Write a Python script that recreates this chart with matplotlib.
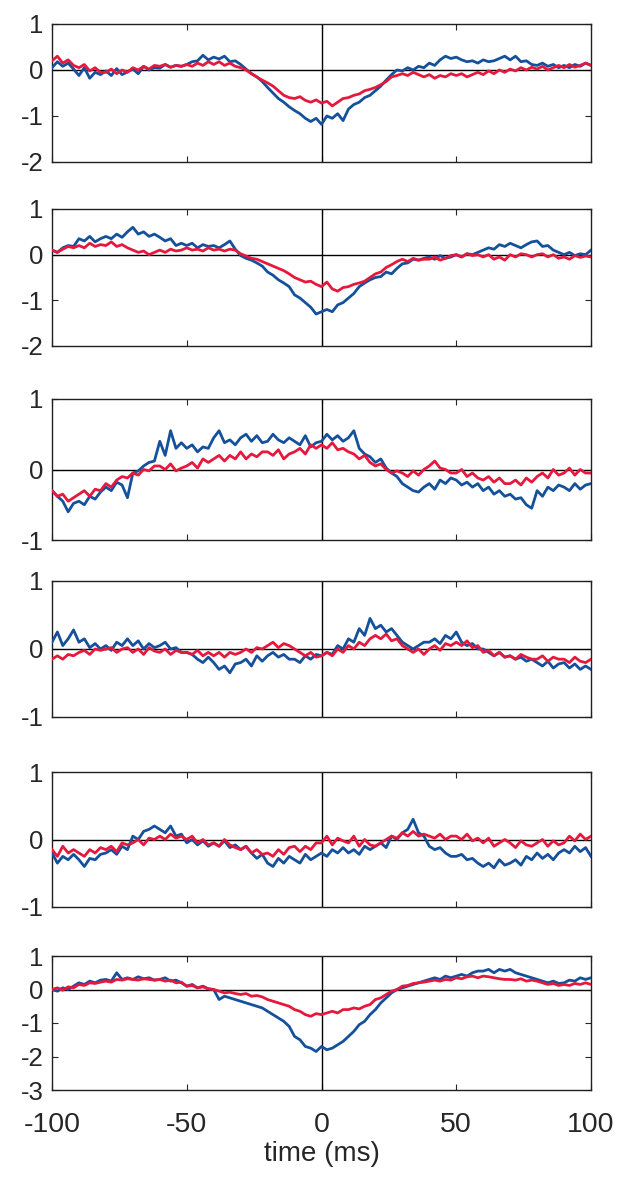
import matplotlib.pyplot as plt
import numpy as np

# time axis (ms), one sample every 2 ms
t = np.arange(-100, 101, 2)

# panel 1
b1 = [0.05, 0.18, 0.08, 0.15, 0.02, -0.12, 0.05, -0.18, -0.05, -0.1,
      -0.02, -0.12, 0.03, -0.1, -0.04, 0.02, -0.08, 0.08, 0.0, 0.05,
      0.04, 0.12, 0.06, 0.1, 0.08, 0.12, 0.18, 0.2, 0.32, 0.22,
      0.28, 0.24, 0.3, 0.18, 0.2, 0.12, 0.02, -0.08, -0.15, -0.25,
      -0.38, -0.5, -0.62, -0.7, -0.8, -0.88, -0.95, -1.05, -1.12, -1.05,
      -1.18, -1.0, -1.05, -0.95, -1.1, -0.85, -0.75, -0.7, -0.6, -0.55,
      -0.45, -0.35, -0.22, -0.1, 0.0, -0.02, 0.05, 0.0, 0.08, 0.05,
      0.15, 0.1, 0.22, 0.3, 0.25, 0.28, 0.22, 0.18, 0.2, 0.15,
      0.22, 0.18, 0.2, 0.25, 0.3, 0.22, 0.3, 0.18, 0.2, 0.12,
      0.1, 0.15, 0.08, 0.12, 0.05, 0.1, 0.05, 0.12, 0.08, 0.15,
      0.1]
r1 = [0.2, 0.3, 0.15, 0.22, 0.1, 0.05, 0.12, -0.02, 0.05, -0.05,
      -0.05, 0.02, -0.08, 0.0, -0.05, 0.05, 0.0, 0.08, 0.02, 0.1,
      0.08, 0.12, 0.06, 0.1, 0.08, 0.12, 0.08, 0.15, 0.1, 0.18,
      0.12, 0.18, 0.1, 0.15, 0.08, 0.05, 0.0, -0.08, -0.15, -0.22,
      -0.28, -0.35, -0.45, -0.55, -0.6, -0.62, -0.58, -0.66, -0.7, -0.65,
      -0.72, -0.68, -0.78, -0.7, -0.62, -0.6, -0.55, -0.52, -0.45, -0.42,
      -0.38, -0.32, -0.25, -0.15, -0.12, -0.08, -0.12, -0.05, -0.1, -0.15,
      -0.1, -0.18, -0.12, -0.15, -0.08, -0.12, -0.08, -0.15, -0.1, -0.05,
      -0.1, -0.02, -0.08, 0.0, -0.05, 0.02, -0.02, 0.05, 0.0, 0.06,
      0.02, 0.08, 0.0, 0.05, 0.1, 0.05, 0.12, 0.06, 0.1, 0.15,
      0.1]

# panel 2
b2 = [0.1, 0.05, 0.15, 0.2, 0.18, 0.35, 0.3, 0.4, 0.28, 0.35,
      0.4, 0.35, 0.45, 0.38, 0.5, 0.6, 0.45, 0.5, 0.4, 0.45,
      0.38, 0.3, 0.35, 0.2, 0.25, 0.2, 0.25, 0.15, 0.22, 0.18,
      0.2, 0.15, 0.22, 0.3, 0.12, -0.02, -0.08, -0.12, -0.18, -0.25,
      -0.38, -0.45, -0.55, -0.62, -0.7, -0.88, -0.95, -1.05, -1.15, -1.3,
      -1.25, -1.2, -1.25, -1.1, -1.05, -0.95, -0.85, -0.7, -0.62, -0.55,
      -0.5, -0.48, -0.38, -0.42, -0.3, -0.2, -0.18, -0.1, -0.12, -0.08,
      -0.05, -0.1, -0.02, -0.08, -0.05, 0.0, -0.05, 0.02, 0.0, 0.05,
      0.1, 0.15, 0.12, 0.22, 0.18, 0.25, 0.2, 0.15, 0.22, 0.28,
      0.3, 0.18, 0.2, 0.1, 0.05, 0.0, 0.05, -0.02, 0.02, 0.0,
      0.1]
r2 = [0.1, 0.05, 0.12, 0.18, 0.15, 0.2, 0.15, 0.25, 0.18, 0.22,
      0.2, 0.28, 0.18, 0.22, 0.15, 0.1, 0.05, 0.08, 0.0, 0.05,
      0.1, 0.05, 0.12, 0.08, 0.1, 0.15, 0.1, 0.12, 0.08, 0.15,
      0.1, 0.12, 0.08, 0.12, 0.1, 0.02, -0.03, -0.08, -0.1, -0.15,
      -0.2, -0.25, -0.3, -0.35, -0.42, -0.5, -0.55, -0.6, -0.58, -0.65,
      -0.7, -0.6, -0.75, -0.8, -0.72, -0.7, -0.65, -0.62, -0.58, -0.5,
      -0.42, -0.38, -0.28, -0.22, -0.15, -0.1, -0.15, -0.08, -0.12, -0.1,
      -0.1, -0.05, -0.12, -0.08, -0.02, 0.0, -0.05, 0.02, -0.02, 0.0,
      -0.05, 0.0, -0.1, -0.05, -0.12, 0.0, -0.05, 0.02, 0.0, -0.05,
      0.0, 0.02, -0.05, 0.0, -0.08, -0.05, -0.1, -0.02, -0.06, -0.03,
      -0.05]

# panel 3
b3 = [-0.3, -0.38, -0.45, -0.6, -0.48, -0.45, -0.5, -0.38, -0.42, -0.32,
      -0.25, -0.3, -0.18, -0.22, -0.4, -0.05, -0.02, 0.05, 0.1, 0.12,
      0.4, 0.2, 0.55, 0.3, 0.38, 0.3, 0.35, 0.25, 0.32, 0.3,
      0.45, 0.55, 0.38, 0.42, 0.35, 0.45, 0.5, 0.4, 0.48, 0.38,
      0.4, 0.5, 0.42, 0.38, 0.45, 0.4, 0.35, 0.48, 0.32, 0.38,
      0.4, 0.5, 0.42, 0.48, 0.4, 0.45, 0.55, 0.3, 0.22, 0.18,
      0.1, 0.15, 0.02, -0.05, -0.1, -0.2, -0.25, -0.3, -0.32, -0.25,
      -0.2, -0.28, -0.15, -0.2, -0.12, -0.15, -0.22, -0.18, -0.25, -0.2,
      -0.3, -0.25, -0.35, -0.3, -0.38, -0.35, -0.42, -0.4, -0.5, -0.55,
      -0.3, -0.38, -0.25, -0.3, -0.22, -0.25, -0.3, -0.2, -0.28, -0.22,
      -0.2]
r3 = [-0.3, -0.38, -0.35, -0.45, -0.4, -0.35, -0.3, -0.38, -0.28, -0.3,
      -0.2, -0.25, -0.15, -0.1, -0.12, -0.05, -0.08, 0.0, -0.02, 0.05,
      0.05, 0.0, 0.08, -0.02, 0.02, 0.05, 0.1, 0.02, 0.15, 0.1,
      0.15, 0.2, 0.12, 0.2, 0.15, 0.25, 0.15, 0.22, 0.18, 0.25,
      0.25, 0.2, 0.28, 0.15, 0.22, 0.25, 0.3, 0.22, 0.35, 0.3,
      0.35, 0.3, 0.38, 0.28, 0.3, 0.25, 0.22, 0.15, 0.2, 0.1,
      0.05, 0.08, 0.0, -0.05, -0.02, -0.05, -0.1, -0.02, -0.08, 0.0,
      0.05, 0.12, 0.02, 0.0, -0.05, -0.05, 0.0, -0.1, -0.05, -0.12,
      -0.15, -0.1, -0.18, -0.12, -0.2, -0.2, -0.15, -0.22, -0.12, -0.18,
      -0.1, -0.05, -0.12, 0.0, -0.08, -0.05, 0.02, -0.08, 0.0, -0.05,
      -0.05]

# panel 4
b4 = [0.1, 0.25, 0.05, 0.15, 0.28, 0.1, 0.15, 0.02, 0.08, 0.0,
      0.05, -0.02, 0.1, 0.05, 0.15, 0.05, 0.12, 0.0, 0.08, 0.02,
      0.05, 0.1, 0.0, 0.02, -0.05, -0.05, -0.08, -0.15, -0.2, -0.12,
      -0.2, -0.3, -0.25, -0.35, -0.22, -0.2, -0.15, -0.25, -0.1, -0.18,
      -0.1, -0.05, -0.12, -0.08, -0.15, -0.15, -0.2, -0.1, -0.15, -0.08,
      -0.1, -0.05, -0.08, 0.05, 0.0, 0.15, 0.1, 0.3, 0.2, 0.45,
      0.3, 0.35, 0.25, 0.3, 0.2, 0.1, 0.05, 0.0, 0.05, 0.1,
      0.1, 0.15, 0.08, 0.2, 0.15, 0.25, 0.1, 0.05, 0.08, 0.0,
      0.0, -0.05, -0.1, -0.05, -0.12, -0.1, -0.15, -0.12, -0.18, -0.15,
      -0.2, -0.25, -0.18, -0.28, -0.22, -0.2, -0.28, -0.22, -0.3, -0.25,
      -0.3]
r4 = [-0.15, -0.1, -0.15, -0.08, -0.1, -0.05, -0.02, -0.08, 0.0, -0.02,
      0.0, 0.02, -0.05, 0.0, 0.02, -0.05, 0.0, -0.08, 0.02, -0.03,
      -0.05, 0.0, -0.08, -0.02, -0.05, -0.05, -0.08, -0.02, -0.1, -0.05,
      -0.1, -0.05, -0.12, -0.05, -0.08, -0.05, 0.0, -0.05, 0.02, 0.0,
      0.05, 0.1, 0.02, 0.08, 0.05, 0.0, -0.05, -0.1, -0.05, -0.12,
      -0.1, -0.05, -0.1, 0.0, -0.05, 0.05, 0.0, 0.1, 0.05, 0.15,
      0.2, 0.15, 0.22, 0.12, 0.15, 0.05, 0.0, -0.05, 0.0, -0.08,
      0.0, 0.05, -0.02, 0.08, 0.05, 0.1, 0.05, 0.12, 0.02, 0.05,
      -0.05, -0.02, -0.1, -0.05, -0.12, -0.1, -0.15, -0.08, -0.12, -0.15,
      -0.15, -0.1, -0.18, -0.12, -0.15, -0.15, -0.2, -0.12, -0.18, -0.2,
      -0.15]

# panel 5
b5 = [-0.2, -0.35, -0.25, -0.3, -0.22, -0.3, -0.4, -0.28, -0.3, -0.22,
      -0.2, -0.15, -0.22, -0.1, -0.15, 0.05, 0.0, 0.12, 0.15, 0.2,
      0.15, 0.1, 0.2, 0.05, 0.08, -0.05, 0.0, -0.08, -0.02, -0.1,
      -0.05, -0.1, -0.02, -0.12, -0.08, -0.15, -0.1, -0.2, -0.28, -0.22,
      -0.35, -0.4, -0.28, -0.35, -0.25, -0.3, -0.35, -0.22, -0.3, -0.25,
      -0.2, -0.25, -0.15, -0.2, -0.12, -0.2, -0.15, -0.22, -0.1, -0.15,
      -0.1, -0.05, -0.12, 0.05, 0.0, 0.1, 0.15, 0.3, 0.1, 0.05,
      -0.1, -0.15, -0.12, -0.2, -0.25, -0.25, -0.22, -0.3, -0.28, -0.35,
      -0.4, -0.35, -0.42, -0.3, -0.38, -0.35, -0.3, -0.38, -0.25, -0.3,
      -0.2, -0.28, -0.22, -0.3, -0.2, -0.15, -0.2, -0.1, -0.18, -0.12,
      -0.25]
r5 = [-0.15, -0.25, -0.1, -0.2, -0.15, -0.2, -0.25, -0.15, -0.2, -0.12,
      -0.15, -0.1, -0.18, -0.05, -0.08, -0.05, 0.0, -0.08, 0.02, 0.0,
      0.05, 0.0, 0.08, 0.02, 0.05, 0.0, 0.05, -0.05, 0.0, -0.08,
      -0.05, -0.1, 0.0, -0.08, -0.12, -0.15, -0.1, -0.2, -0.15, -0.22,
      -0.2, -0.25, -0.15, -0.22, -0.12, -0.1, -0.18, -0.1, -0.15, -0.05,
      -0.05, 0.05, -0.08, 0.02, -0.02, -0.05, 0.05, -0.1, 0.0, -0.08,
      -0.1, -0.05, 0.0, 0.05, 0.02, 0.1, 0.05, 0.12, 0.05, 0.08,
      0.05, 0.02, 0.08, 0.0, 0.05, 0.05, 0.0, 0.08, -0.02, 0.02,
      -0.05, 0.02, -0.1, -0.05, 0.0, -0.05, -0.12, -0.02, -0.08, -0.1,
      -0.05, 0.0, -0.1, -0.02, -0.08, -0.05, 0.05, -0.02, 0.08, 0.0,
      0.05]

# panel 6
b6 = [0.0, -0.05, 0.05, 0.0, 0.1, 0.2, 0.15, 0.25, 0.2, 0.28,
      0.3, 0.25, 0.5, 0.3, 0.35, 0.3, 0.38, 0.32, 0.35, 0.28,
      0.3, 0.35, 0.25, 0.28, 0.2, 0.1, 0.15, 0.05, 0.1, 0.02,
      0.0, -0.3, -0.2, -0.25, -0.3, -0.35, -0.4, -0.45, -0.5, -0.55,
      -0.65, -0.75, -0.85, -0.95, -1.1, -1.4, -1.5, -1.7, -1.75, -1.85,
      -1.7, -1.8, -1.75, -1.65, -1.55, -1.4, -1.25, -1.05, -0.95, -0.75,
      -0.6, -0.4, -0.25, -0.1, 0.0, 0.05, 0.1, 0.15, 0.2, 0.25,
      0.3, 0.35, 0.3, 0.4, 0.35, 0.4, 0.45, 0.4, 0.5, 0.55,
      0.55, 0.6, 0.5, 0.6, 0.55, 0.6, 0.5, 0.45, 0.4, 0.35,
      0.3, 0.25, 0.2, 0.25, 0.18, 0.2, 0.28, 0.25, 0.35, 0.3,
      0.35]
r6 = [0.0, 0.05, -0.02, 0.08, 0.05, 0.15, 0.12, 0.2, 0.18, 0.22,
      0.25, 0.22, 0.3, 0.28, 0.32, 0.3, 0.28, 0.32, 0.3, 0.28,
      0.3, 0.25, 0.28, 0.2, 0.22, 0.1, 0.12, 0.05, 0.08, 0.02,
      0.0, -0.05, -0.1, -0.08, -0.12, -0.15, -0.12, -0.2, -0.18, -0.22,
      -0.3, -0.35, -0.4, -0.45, -0.5, -0.6, -0.65, -0.75, -0.8, -0.72,
      -0.75, -0.7, -0.65, -0.7, -0.6, -0.6, -0.55, -0.58, -0.5, -0.45,
      -0.3, -0.25, -0.15, -0.05, 0.0, 0.1, 0.12, 0.18, 0.2, 0.22,
      0.25, 0.28, 0.25, 0.3, 0.28, 0.35, 0.32, 0.38, 0.4, 0.35,
      0.4, 0.38, 0.35, 0.32, 0.3, 0.3, 0.28, 0.32, 0.25, 0.28,
      0.25, 0.2, 0.15, 0.18, 0.12, 0.15, 0.12, 0.18, 0.15, 0.2,
      0.15]

blue_series = [b1, b2, b3, b4, b5, b6]
red_series = [r1, r2, r3, r4, r5, r6]
ylims = [(-2, 1), (-2, 1), (-1, 1), (-1, 1), (-1, 1), (-3, 1)]
xticks = [-100, -50, 0, 50, 100]

# panel top/bottom in pixels of the 622x1180 image
panel_px = [(24, 162), (209, 346), (399, 540), (581, 717), (772, 907), (956, 1090)]

W, H = 622, 1180
plt.rcParams['font.family'] = 'Liberation Sans'
plt.rcParams['axes.unicode_minus'] = False
fig = plt.figure(figsize=(W / 100, H / 100), dpi=100)

blue = '#15509a'
red = '#e5193d'
txt = '#262626'

axes = []
for i, (top, bot) in enumerate(panel_px):
    ax = fig.add_axes([52 / W, 1 - bot / H, (591 - 52) / W, (bot - top) / H])
    ax.plot(t, blue_series[i], color=blue, lw=2.0, zorder=3)
    ax.plot(t, red_series[i], color=red, lw=2.0, zorder=4)
    ax.axhline(0, color='black', lw=1.0, zorder=2)
    ax.axvline(0, color='black', lw=1.0, zorder=2)
    ax.set_xlim(-100, 100)
    lo, hi = ylims[i]
    ax.set_ylim(lo, hi)
    ax.set_yticks(np.arange(lo, hi + 1))
    ax.set_xticks(xticks)
    ax.tick_params(direction='in', top=True, right=True, length=4, width=0.8,
                   colors=txt)
    ax.tick_params(axis='y', labelsize=18.5, pad=6)
    ax.tick_params(axis='x', labelsize=20.5, pad=16)
    for s in ax.spines.values():
        s.set_linewidth(1.0)
        s.set_color('#202020')
    if i < 5:
        ax.set_xticklabels([])
    axes.append(ax)

axes[-1].set_xlabel('time (ms)', fontsize=20, color=txt, labelpad=2)

plt.savefig('out.png', dpi=100, facecolor='white')
